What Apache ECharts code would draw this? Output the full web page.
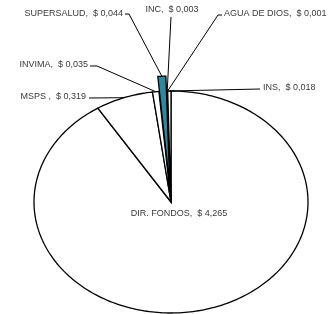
<!DOCTYPE html>
<html>
<head>
<meta charset="utf-8">
<script src="https://cdn.jsdelivr.net/npm/echarts@6/dist/echarts.min.js"></script>
<style>
    html, body { margin: 0; padding: 0; background: #fff; }
    #chart { width: 331px; height: 314px; }
</style>
</head>
<body>
<div id="chart"></div>
<script>
    // valores (miles de millones)
    var names = ['DIR. FONDOS', 'MSPS ', 'INVIMA', 'SUPERSALUD', 'INC', 'AGUA DE DIOS', 'INS'];
    var values = [4.265, 0.319, 0.035, 0.044, 0.003, 0.001, 0.018];
    var explode = [0, 0, 0, 0.135, 0, 0, 0];
    var colors = ['#fff', '#fff', '#fff', '#31859c', '#fff', '#fff', '#fff'];

    // posicion de las etiquetas (arrastradas a mano en el original)
    var labelPos = [
        {x: 179, y: 214, align: 'center', line: null},
        {x: 86, y: 97, align: 'right', line: [[89, 98]]},
        {x: 88, y: 65, align: 'right', line: [[90, 66], [97, 66]]},
        {x: 123, y: 14, align: 'right', line: [[125, 14], [129, 14]]},
        {x: 172, y: 10, align: 'center', line: [[171, 17]]},
        {x: 224, y: 14, align: 'left', line: [[222, 15], [218, 15]]},
        {x: 263, y: 88, align: 'left', line: [[260, 89]]}
    ];

    var cx = 171, cy = 202, rx = 137, ry = 111;

    var total = values.reduce(function (a, b) { return a + b; }, 0);
    var starts = [], acc = 0;
    values.forEach(function (v) { starts.push(acc / total * Math.PI * 2); acc += v; });

    function fmt(v) {
        return ' $ ' + v.toFixed(3).replace('.', ',');
    }

    function pt(a, k, ox, oy) {
        return [cx + ox + rx * k * Math.sin(a), cy + oy - ry * k * Math.cos(a)];
    }

    var chart = echarts.init(document.getElementById('chart'));
    chart.setOption({
        animation: false,
        series: [{
            type: 'custom',
            coordinateSystem: 'none',
            data: values.map(function (v, i) { return [i, v]; }),
            renderItem: function (params, api) {
                var i = params.dataIndex;
                var a0 = starts[i];
                var a1 = a0 + values[i] / total * Math.PI * 2;
                var mid = (a0 + a1) / 2;
                var ox = rx * explode[i] * Math.sin(mid);
                var oy = -ry * explode[i] * Math.cos(mid);
                var pts = [[cx + ox, cy + oy]];
                var n = Math.max(2, Math.ceil((a1 - a0) / 0.02));
                for (var s = 0; s <= n; s++) {
                    pts.push(pt(a0 + (a1 - a0) * s / n, 1, ox, oy));
                }
                var children = [{
                    type: 'polygon',
                    shape: {points: pts},
                    style: {fill: colors[i], stroke: '#000', lineWidth: 1.3, lineJoin: 'miter'}
                }];
                var lp = labelPos[i];
                if (lp.line) {
                    var linePts = lp.line.slice();
                    linePts.push(pt(mid, 1, ox, oy));
                    children.push({
                        type: 'polyline',
                        shape: {points: linePts},
                        style: {stroke: '#000', lineWidth: 1, fill: null}
                    });
                }
                children.push({
                    type: 'text',
                    style: {
                        text: names[i] + ', ' + fmt(values[i]),
                        x: lp.x, y: lp.y,
                        align: lp.align, verticalAlign: 'middle',
                        textAlign: lp.align, textVerticalAlign: 'middle',
                        font: '9px "Liberation Sans"',
                        fill: '#3a3a3a'
                    }
                });
                return {type: 'group', children: children};
            }
        }]
    });
</script>
</body>
</html>
